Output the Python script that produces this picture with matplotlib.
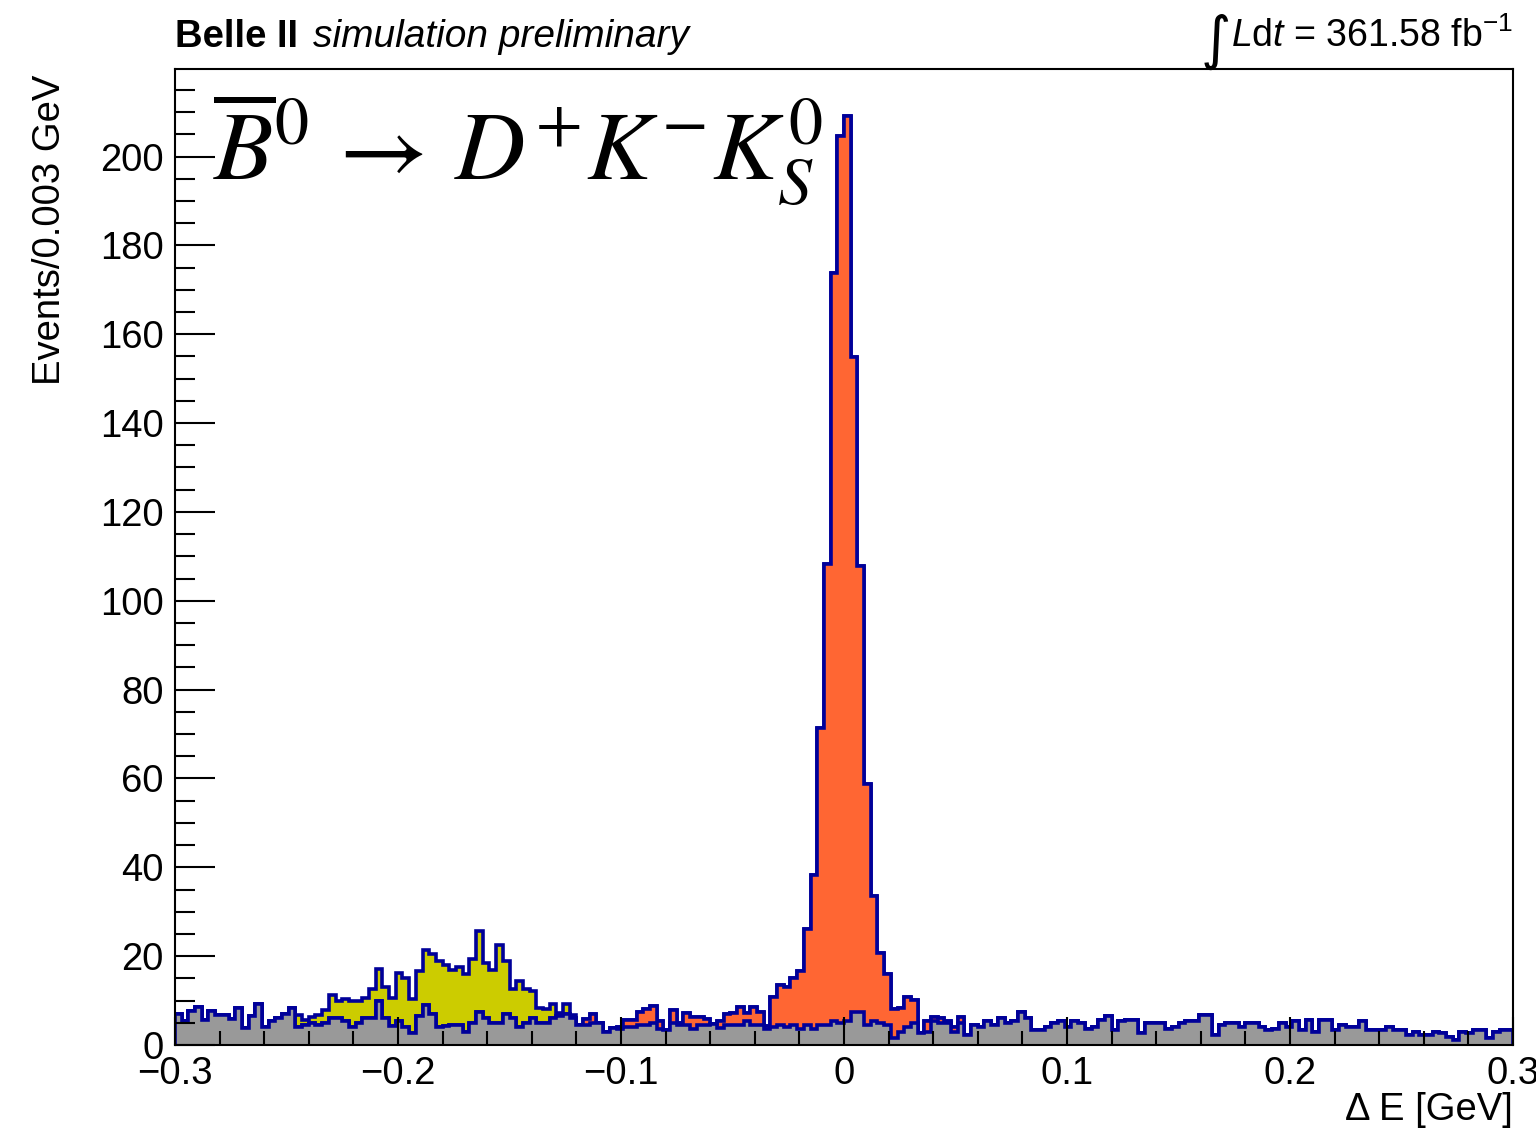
import matplotlib
matplotlib.use('Agg')
import matplotlib.pyplot as plt
import numpy as np
from matplotlib.ticker import MultipleLocator

plt.rcParams['font.family'] = ['Liberation Sans', 'DejaVu Sans']
plt.rcParams['mathtext.fontset'] = 'custom'
plt.rcParams['mathtext.rm'] = 'Liberation Sans'
plt.rcParams['mathtext.it'] = 'Liberation Sans:italic'

# ========== data: Delta E, 200 bins of 0.003 GeV ==========
x_lo, x_hi, n_bins = -0.3, 0.3, 200

# continuum / combinatorial background (gray)
bkg = [
    7.0, 5.5, 7.7, 8.6, 5.6, 7.7, 6.8, 6.8, 5.8, 8.3,
    3.8, 6.5, 9.2, 4.1, 5.3, 6.0, 7.0, 8.3, 4.0, 4.5,
    5.0, 4.5, 5.0, 6.0, 6.0, 5.5, 4.0, 5.0, 6.0, 6.0,
    10.0, 6.0, 4.3, 5.3, 4.1, 2.6, 6.5, 9.0, 7.0, 4.0,
    4.3, 4.5, 4.5, 3.0, 5.0, 7.5, 6.0, 5.0, 5.0, 7.0,
    6.0, 4.0, 5.0, 6.0, 5.0, 5.0, 6.0, 6.5, 7.0, 6.0,
    4.5, 4.5, 5.0, 4.9, 3.0, 3.8, 3.5, 4.0, 4.0, 4.5,
    4.5, 5.0, 3.5, 3.4, 5.0, 4.5, 4.5, 3.5, 4.5, 4.5,
    4.7, 3.8, 4.5, 4.5, 4.5, 5.5, 4.5, 4.5, 3.5, 4.0,
    4.5, 4.0, 4.5, 3.5, 4.5, 3.5, 4.5, 4.5, 5.5, 5.0,
    5.5, 7.5, 7.5, 4.5, 5.5, 5.0, 4.5, 1.5, 3.0, 4.1,
    4.9, 2.8, 3.0, 5.3, 5.0, 4.9, 3.0, 5.0, 2.3, 4.5,
    4.0, 5.5, 4.5, 6.0, 4.9, 5.3, 7.5, 6.0, 3.4, 3.4,
    4.1, 4.9, 5.3, 4.1, 5.3, 4.9, 3.7, 4.1, 5.6, 6.5,
    3.4, 5.3, 5.6, 5.6, 2.6, 4.9, 4.9, 4.9, 3.7, 4.1,
    4.9, 5.3, 5.3, 6.8, 6.8, 2.3, 4.5, 4.9, 4.9, 4.1,
    4.9, 4.9, 4.1, 3.4, 3.7, 4.9, 4.1, 5.3, 3.4, 5.6,
    3.0, 5.6, 5.6, 3.4, 4.5, 4.1, 4.1, 5.3, 3.4, 3.4,
    3.4, 4.1, 3.4, 3.4, 2.3, 3.0, 2.3, 2.3, 3.0, 2.6,
    1.9, 1.1, 3.0, 2.6, 3.4, 3.4, 1.5, 3.0, 3.4, 3.4,
]

# signal B0bar -> D+ K- KS0 (orange), non-zero bins only
sig_first = 61
sig_vals = [
    1.3, 2.0, 0.0, 0.0, 0.0, 0.6, 1.6, 1.6, 3.0,
    3.5, 3.8, 1.8, 0.0, 2.9, 0.4, 2.6, 2.9, 1.9, 1.3,
    0.0, 1.5, 2.5, 2.6, 4.1, 1.6, 4.1, 3.0, 0.8, 6.8,
    8.9, 9.0, 10.5, 13.2, 21.7, 34.8, 66.8, 103.8, 168.3, 199.7,
    203.7, 147.3, 100.3, 54.3, 28.0, 15.7, 11.5, 6.5, 5.4, 6.6,
    5.2, 0.0, 2.3, 1.1, 1.0, 0.4, 1.1, 1.4,
]

# peaking background (yellow), non-zero bins only
peak_first = 18
peak_vals = [
    2.8, 1.1,
    1.2, 2.3, 2.9, 5.3, 3.8, 4.8, 6.0, 4.8, 4.5, 6.5,
    7.0, 7.0, 6.2, 11.0, 10.9, 7.7, 10.2, 12.4, 13.4, 14.8,
    13.7, 12.4, 13.1, 13.0, 14.3, 18.2, 12.4, 11.9, 17.5, 12.0,
    6.5, 10.4, 7.5, 6.2, 3.3, 3.0, 3.2, 0.6, 2.2, 0.8,
]

edges = np.linspace(x_lo, x_hi, n_bins + 1)
bkg = np.array(bkg)
sig = np.zeros(n_bins)
sig[sig_first:sig_first + len(sig_vals)] = sig_vals
peaking = np.zeros(n_bins)
peaking[peak_first:peak_first + len(peak_vals)] = peak_vals

# stack order: gray, orange, yellow
lvl1 = bkg
lvl2 = bkg + sig
lvl3 = bkg + sig + peaking

c_gray = '#999999'
c_orange = '#ff6633'
c_yellow = '#cccc00'
c_line = '#000099'

fig = plt.figure(figsize=(15.36, 11.36), dpi=100)
ax = fig.add_axes([175 / 1536, 1 - 1045 / 1136, (1513 - 175) / 1536, (1045 - 69) / 1136])

for lvl, col in [(lvl3, c_yellow), (lvl2, c_orange), (lvl1, c_gray)]:
    ax.stairs(lvl, edges, baseline=0, fill=True, color=col, lw=0)
    ax.stairs(lvl, edges, baseline=0, color=c_line, lw=2.6)

ax.set_xlim(x_lo, x_hi)
ax.set_ylim(0, 219.7)

ax.xaxis.set_minor_locator(MultipleLocator(0.02))
ax.yaxis.set_major_locator(MultipleLocator(20))
ax.yaxis.set_minor_locator(MultipleLocator(5))
ax.set_xticks([-0.3, -0.2, -0.1, 0, 0.1, 0.2, 0.3])
ax.set_xticklabels(['\u22120.3', '\u22120.2', '\u22120.1', '0', '0.1', '0.2', '0.3'])

ax.tick_params(axis='x', which='major', direction='in', length=20, width=1.5,
               labelsize=27.5, pad=8, top=False)
ax.tick_params(axis='x', which='minor', direction='in', length=10, width=1.5, top=False)
ax.tick_params(axis='y', which='major', direction='in', length=29, width=1.5,
               labelsize=27.5, pad=8, right=False)
ax.tick_params(axis='y', which='minor', direction='in', length=14.5, width=1.5, right=False)
for s in ax.spines.values():
    s.set_linewidth(1.5)
ax.set_axisbelow(False)

# labels
fig.text(50 / 1536, 1 - 75 / 1136, 'Events/0.003 GeV', rotation=90,
         ha='center', va='top', fontsize=27.5)
fig.text(1513 / 1536, 1 - 1110 / 1136, '\u0394 E [GeV]', ha='right', va='center', fontsize=27.5)

fig.text(175 / 1536, 1 - 47 / 1136, 'Belle II', fontweight='bold', fontsize=27.5,
         ha='left', va='baseline')
fig.text(313 / 1536, 1 - 47 / 1136, 'simulation preliminary', style='italic', fontsize=28,
         ha='left', va='baseline')
fig.text(1216 / 1536, 1 - 41 / 1136, '\u222b', family='DejaVu Sans', fontsize=42,
         ha='center', va='center')
fig.text(1513 / 1536, 1 - 47 / 1136, r'$\mathit{L}\mathrm{d}\mathit{t}$ = 361.58 fb$^{-1}$',
         fontsize=27, ha='right', va='baseline')

ax.text(213 / 1536, 1 - 180 / 1136, r'$\overline{B}^{0}\,\rightarrow\,D^{+}K^{-}K^{0}_{S}$',
        transform=fig.transFigure, math_fontfamily='stix', fontsize=70,
        ha='left', va='baseline')

fig.savefig('out.png', dpi=100)
